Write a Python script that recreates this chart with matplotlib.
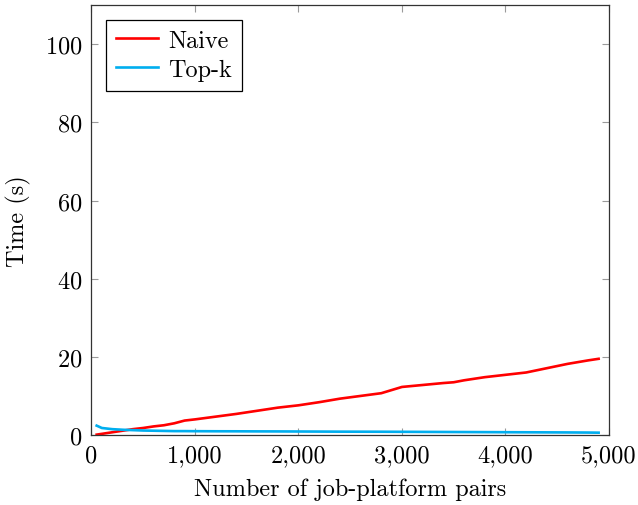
import matplotlib
matplotlib.use("Agg")
import matplotlib.pyplot as plt
from matplotlib.ticker import FuncFormatter

# runtime (s) against number of job-platform pairs
pairs = [50, 100, 200, 300, 400, 500, 600, 700, 800, 900, 1000, 1200, 1400,
         1600, 1800, 2000, 2200, 2400, 2600, 2800, 3000, 3200, 3400, 3500,
         3600, 3800, 4000, 4200, 4400, 4600, 4800, 4900]
naive = [0.1, 0.3, 0.7, 1.1, 1.5, 1.8, 2.2, 2.5, 3.0, 3.7, 4.0, 4.7, 5.4,
         6.2, 7.0, 7.6, 8.4, 9.3, 10.0, 10.7, 12.3, 12.8, 13.3, 13.5,
         14.0, 14.8, 15.4, 16.0, 17.1, 18.2, 19.1, 19.5]
topk = [2.4, 1.8, 1.5, 1.35, 1.25, 1.15, 1.1, 1.05, 1.0, 1.0, 0.98, 0.96, 0.95,
        0.93, 0.92, 0.9, 0.88, 0.86, 0.85, 0.84, 0.82, 0.8, 0.78, 0.77,
        0.76, 0.74, 0.72, 0.7, 0.68, 0.66, 0.63, 0.6]

plt.rcParams["font.family"] = "serif"
plt.rcParams["font.serif"] = ["cmr10"]
plt.rcParams["mathtext.fontset"] = "cm"
plt.rcParams["axes.formatter.use_mathtext"] = True

FS = 17.5

fig = plt.figure(figsize=(6.38, 5.06), dpi=100)
ax = fig.add_axes([0.1434, 0.1383, 0.8111, 0.8497])

ax.plot(pairs, naive, color="#ff0000", lw=1.9, label="Naive")
ax.plot(pairs, topk, color="#00aeef", lw=1.9, label="Top-k")

ax.set_xlim(0, 5000)
ax.set_ylim(0, 110)
ax.set_xticks(range(0, 5001, 1000))
ax.set_yticks(range(0, 101, 20))
ax.xaxis.set_major_formatter(FuncFormatter(lambda v, p: f"{int(v):,}"))

ax.tick_params(direction="in", length=5, width=0.8, color="#9a9a9a",
               top=True, right=True, labelsize=FS, pad=6.5)
for s in ax.spines.values():
    s.set_color("#333333")
    s.set_linewidth(0.9)

ax.set_xlabel("Number of job-platform pairs", fontsize=FS, labelpad=8)
ax.set_ylabel("Time (s)", fontsize=FS, labelpad=10)

leg = ax.legend(loc="upper left", fontsize=FS, frameon=True, fancybox=False,
                edgecolor="black", framealpha=1, handlelength=1.75,
                handletextpad=0.4, borderpad=0.4, labelspacing=0.3,
                borderaxespad=0.6)
leg.get_frame().set_linewidth(0.9)

fig.savefig("out.png", dpi=100)
